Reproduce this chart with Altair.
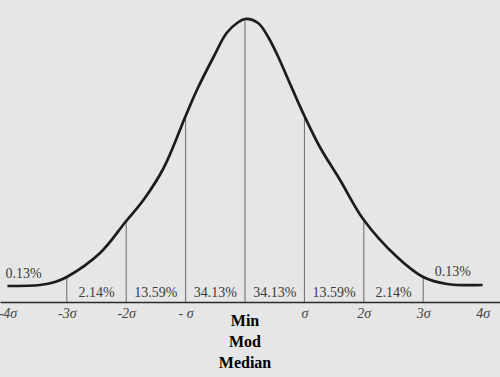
import json
import altair as alt
import pandas as pd

# Curve (sigma units, height above the baseline)
sigma = [-4.0, -3.45, -3.2, -3.0, -2.44, -2.0, -1.71, -1.37, -1.0, -0.81,
         -0.53, -0.31, -0.11, 0.0, 0.22, 0.39, 0.56, 0.73, 0.9, 1.0,
         1.26, 1.6, 2.0, 2.56, 3.0, 3.4, 4.0]
height = [16, 17, 20, 25, 49, 81, 102, 134, 186, 212,
          245, 269, 280, 283, 279, 265, 245, 222, 199, 186,
          155, 122, 82, 45, 25, 18, 17]

band_edges = [-4, -3, -2, -1, 0, 1, 2, 3, 4]
band_percent = ["0.13%", "2.14%", "13.59%", "34.13%",
                "34.13%", "13.59%", "2.14%", "0.13%"]
tick_labels = ["-4σ", "-3σ", "-2σ", "- σ", "", "σ", "2σ", "3σ", "4σ"]
center_labels = ["Min", "Mod", "Median"]

curve_df = pd.DataFrame({"sigma": sigma, "height": height})
lookup = dict(zip(sigma, height))
inner_edges = band_edges[1:-1]
rules_df = pd.DataFrame({
    "sigma": inner_edges,
    "height": [lookup[float(e)] for e in inner_edges],
    "base": [0] * len(inner_edges),
})
inner_df = pd.DataFrame({
    "sigma": [(a + b) / 2 for a, b in zip(band_edges[1:-2], band_edges[2:-1])],
    "label": band_percent[1:-1],
})
left_tail_df = pd.DataFrame({"sigma": [band_edges[0]], "label": [band_percent[0]]})
right_tail_df = pd.DataFrame({"sigma": [(band_edges[-2] + band_edges[-1]) / 2],
                              "label": [band_percent[-1]]})
center_df = pd.DataFrame({"sigma": [band_edges[4]]})

x_scale = alt.Scale(domain=[-4.125, 4.293], nice=False, zero=False)
y_scale = alt.Scale(domain=[0, 302], nice=False, zero=True)

label_expr = json.dumps(tick_labels, ensure_ascii=False) + "[round(datum.value) + 4]"
x_axis = alt.Axis(values=band_edges, labelExpr=label_expr, title=None,
                  ticks=False, grid=False, labelFlush=False,
                  labelOverlap=False, labelBound=False)


def X():
    return alt.X("sigma:Q", scale=x_scale, axis=x_axis)


curve = alt.Chart(curve_df).mark_line(
    color="#1c1c1c", strokeWidth=2.7, interpolate="catmull-rom"
).encode(x=X(), y=alt.Y("height:Q", scale=y_scale, axis=None))

rules = alt.Chart(rules_df).mark_rule(color="#6a6a6a", strokeWidth=1).encode(
    x=X(), y=alt.Y("base:Q", scale=y_scale, axis=None), y2="height:Q"
)

font = "Liberation Serif"
text_color = "#3a3a3a"
inner = alt.Chart(inner_df).mark_text(
    font=font, fontSize=14, color=text_color, baseline="middle", align="center"
).encode(x=X(), y=alt.value(293), text="label:N")

left_tail = alt.Chart(left_tail_df).mark_text(
    font=font, fontSize=14, color=text_color, baseline="middle", align="left", dx=-2
).encode(x=X(), y=alt.value(274), text="label:N")

right_tail = alt.Chart(right_tail_df).mark_text(
    font=font, fontSize=14, color=text_color, baseline="middle", align="center"
).encode(x=X(), y=alt.value(272), text="label:N")

center = alt.Chart(center_df).mark_text(
    text=center_labels, font=font, fontSize=16, fontWeight="bold",
    color="#000000", align="center", baseline="alphabetic", lineHeight=21
).encode(x=X(), y=alt.value(326))

chart = alt.layer(rules, curve, inner, left_tail, right_tail, center).properties(
    width=500, height=302,
    autosize=alt.AutoSizeParams(type="none"),
    padding={"left": 0, "right": 0, "top": 0, "bottom": 75},
    background="#e6e6e6",
).configure_view(strokeWidth=0).configure_axis(
    domainColor="#2a2a2a", domainWidth=1.5,
    labelFont=font, labelFontStyle="italic", labelFontSize=14,
    labelColor="#444444", labelPadding=4,
)

chart.save("out.html", embed_options={"renderer": "svg", "actions": False})
